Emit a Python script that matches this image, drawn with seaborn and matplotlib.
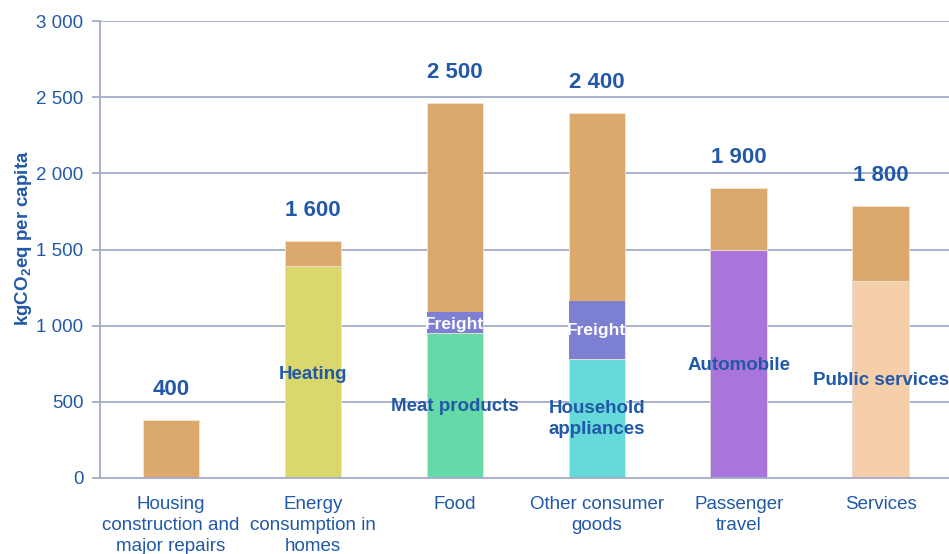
import matplotlib
matplotlib.use("Agg")
import matplotlib.pyplot as plt
from matplotlib.ticker import FixedLocator, FuncFormatter
import seaborn as sns
import numpy as np
import pandas as pd

# Per-capita carbon footprint by consumption item (kgCO2eq)
categories = [
    "Housing\nconstruction and\nmajor repairs",
    "Energy\nconsumption in\nhomes",
    "Food",
    "Other consumer\ngoods",
    "Passenger\ntravel",
    "Services",
]
main_labels = ["", "Heating", "Meat products", "Household\nappliances", "Automobile", "Public services"]
main_values = [0, 1390, 950, 780, 1495, 1290]
freight_values = [0, 0, 140, 380, 0, 0]
rest_values = [380, 165, 1370, 1235, 410, 495]

main_colors = ["#DBA96B", "#DAD86C", "#66D9A9", "#66D9DB", "#A974DB", "#F5CFAA"]
freight_color = "#7D7FD3"
rest_color = "#DBA96B"
text_blue = "#2159A8"
axis_color = "#A3ABC9"

sns.set_theme(style="white")
plt.rcParams["font.family"] = ["Liberation Sans", "DejaVu Sans"]
plt.rcParams["mathtext.fontset"] = "custom"
plt.rcParams["mathtext.rm"] = "Liberation Sans"
plt.rcParams["mathtext.bf"] = "Liberation Sans:bold"

main = np.array(main_values, dtype=float)
freight = np.array(freight_values, dtype=float)
rest = np.array(rest_values, dtype=float)
totals = main + freight + rest

df = pd.DataFrame({
    "category": categories,
    "main": main,
    "main_freight": main + freight,
    "total": totals,
})

fig = plt.figure(figsize=(9.49, 5.54), dpi=100)
ax = fig.add_axes([100 / 949, 76 / 554, 849 / 949, 457 / 554])

bar_w = 0.4
edge = dict(edgecolor="#F4E6D4", linewidth=0.6)
# Stacked layers drawn as cumulative heights, tallest first
sns.barplot(data=df, x="category", y="total", color=rest_color, saturation=1,
            width=bar_w, ax=ax, zorder=3, **edge)
sns.barplot(data=df, x="category", y="main_freight", color=freight_color, saturation=1,
            width=bar_w, ax=ax, zorder=3, edgecolor=freight_color, linewidth=0)
sns.barplot(data=df, x="category", y="main", hue="category", palette=main_colors,
            saturation=1, width=bar_w, legend=False, ax=ax, zorder=3, **edge)

ax.set_xlim(-0.5, 5.48)
ax.set_ylim(0, 3000)

# Grid and axes
ax.yaxis.set_major_locator(FixedLocator(np.arange(0, 3001, 500)))
ax.yaxis.set_major_formatter(FuncFormatter(lambda v, p: f"{int(v):,}".replace(",", " ")))
for yv in np.arange(500, 3001, 500):
    ax.axhline(yv, color=axis_color, lw=1.3, zorder=1)
for s in ["top", "right"]:
    ax.spines[s].set_visible(False)
for s in ["left", "bottom"]:
    ax.spines[s].set_color(axis_color)
    ax.spines[s].set_linewidth(1.3)
    ax.spines[s].set_zorder(4)

ax.set_xticks(range(len(categories)))
ax.set_xticklabels(categories, fontsize=13.5, color=text_blue, linespacing=1.32)
ax.xaxis.set_minor_locator(FixedLocator(np.arange(-0.5, 6, 1)))
ax.tick_params(axis="x", which="major", length=0, pad=13)
ax.tick_params(axis="x", which="minor", length=6, width=1.3, color=axis_color, direction="out")
ax.tick_params(axis="y", length=6, width=1.3, color=axis_color, direction="out",
               labelsize=13.5, labelcolor=text_blue, pad=6, left=True)
ax.set_xlabel("")
ax.set_ylabel(r"kgCO$_\mathbf{2}$eq per capita", fontsize=13.5, fontweight="bold",
              color=text_blue)
ax.yaxis.set_label_coords(-0.078, 0.525)

# Rounded totals above each bar
for i, t in enumerate(totals):
    ax.text(i, t + 130, f"{int(round(t, -2)):,}".replace(",", " "), ha="center", va="bottom",
            fontsize=16, fontweight="bold", color=text_blue, zorder=5)

# Segment labels
main_label_y = [0, 680, 470, 385, 740, 640]
for i, lab in enumerate(main_labels):
    if lab:
        ax.text(i, main_label_y[i], lab, ha="center", va="center", fontsize=13.5,
                fontweight="bold", color=text_blue, linespacing=1.3, zorder=5)
for i, f in enumerate(freight_values):
    if f > 0:
        y = main[i] + f / 2 if f > 200 else main[i] + f / 2 - 15
        ax.text(i, y, "Freight", ha="center", va="center", fontsize=12.5,
                fontweight="bold", color="white", zorder=5)

fig.savefig("out.png", dpi=100)
